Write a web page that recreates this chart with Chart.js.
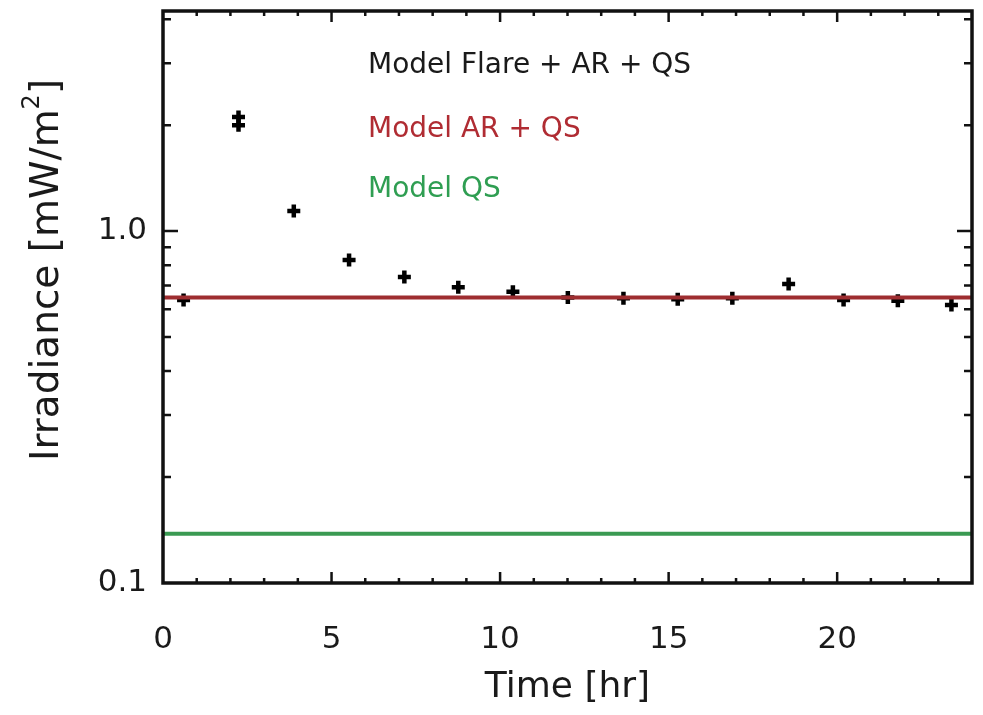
<!DOCTYPE html>
<html>
<head>
<meta charset="utf-8">
<title>Irradiance vs time</title>
<script src="https://cdn.jsdelivr.net/npm/chart.js@4.4.1/dist/chart.umd.min.js"></script>
<style>
    html, body { margin: 0; padding: 0; background: #fff; }
    #wrap { width: 983px; height: 715px; position: relative; }
</style>
</head>
<body>
<div id="wrap"><canvas id="irradianceChart"></canvas></div>
<script>
// values
const hours = [0.61, 2.24, 2.24, 3.88, 5.52, 7.16, 8.76, 10.38, 12.01, 13.66, 15.27, 16.89, 18.56, 20.19, 21.8, 23.39];
const irradiance = [0.637, 2.11, 2.00, 1.14, 0.827, 0.741, 0.692, 0.672, 0.648, 0.644, 0.640, 0.644, 0.707, 0.637, 0.634, 0.616];
const lineRange = [0, 24];
const arQsLevel = 0.648;
const qsLevel = 0.138;
const legendLabels = ["Model Flare + AR + QS", "Model AR + QS", "Model QS"];
const legendColors = ["#1a1a1a", "#b02c33", "#2f9e52"];
const xTitle = "Time [hr]";
const yTitle = "Irradiance [mW/m";

const FONT = "'DejaVu Sans', sans-serif";

// box + inward ticks on all four sides, plus the text labels inside the plot
const idlFrame = {
    id: "idlFrame",
    afterDraw(chart) {
        const ctx = chart.ctx;
        const area = chart.chartArea;
        const xs = chart.scales.x;
        const ys = chart.scales.y;

        ctx.save();
        ctx.strokeStyle = "#111";
        ctx.lineWidth = 3.5;
        ctx.strokeRect(area.left, area.top, area.right - area.left, area.bottom - area.top);

        ctx.lineWidth = 2.5;
        xs.ticks.forEach(t => {
            const px = xs.getPixelForValue(t.value);
            if (px <= area.left + 1 || px >= area.right - 1) return;
            const len = t.value % 5 === 0 ? 11 : 5;
            ctx.beginPath();
            ctx.moveTo(px, area.bottom); ctx.lineTo(px, area.bottom - len);
            ctx.moveTo(px, area.top); ctx.lineTo(px, area.top + len);
            ctx.stroke();
        });
        ys.ticks.forEach(t => {
            const v = t.value;
            const exp = Math.floor(Math.log10(v) + 1e-9);
            const sig = v / Math.pow(10, exp);
            if (Math.abs(sig - Math.round(sig)) > 1e-6) return;
            const py = ys.getPixelForValue(v);
            if (py >= area.bottom - 1 || py <= area.top + 1) return;
            const len = Math.round(sig) === 1 ? 15 : 8;
            ctx.beginPath();
            ctx.moveTo(area.left, py); ctx.lineTo(area.left + len, py);
            ctx.moveTo(area.right, py); ctx.lineTo(area.right - len, py);
            ctx.stroke();
        });

        // legend text
        ctx.font = "28px " + FONT;
        ctx.textBaseline = "alphabetic";
        ctx.textAlign = "left";
        const baselines = [73, 137, 197];
        legendLabels.forEach((txt, i) => {
            ctx.fillStyle = legendColors[i];
            ctx.fillText(txt, 368, baselines[i]);
        });

        // y axis title with superscript
        ctx.fillStyle = "#1a1a1a";
        ctx.translate(58, 270);
        ctx.rotate(-Math.PI / 2);
        ctx.font = "39px " + FONT;
        const mainW = ctx.measureText(yTitle).width;
        ctx.font = "24px " + FONT;
        const supW = ctx.measureText("2").width;
        ctx.font = "39px " + FONT;
        const closeW = ctx.measureText("]").width;
        let x0 = -(mainW + supW + closeW) / 2;
        ctx.fillText(yTitle, x0, 0);
        ctx.font = "24px " + FONT;
        ctx.fillText("2", x0 + mainW, -19);
        ctx.font = "39px " + FONT;
        ctx.fillText("]", x0 + mainW + supW, 0);
        ctx.restore();
    }
};

document.addEventListener("DOMContentLoaded", function () {
    const points = hours.map((h, i) => ({ x: h, y: irradiance[i] }));
    const arQsLine = lineRange.map(h => ({ x: h, y: arQsLevel }));
    const qsLine = lineRange.map(h => ({ x: h, y: qsLevel }));

    new Chart(document.getElementById("irradianceChart"), {
        type: "scatter",
        data: {
            datasets: [
                {
                    label: "Model AR + QS",
                    data: arQsLine,
                    showLine: true,
                    borderColor: "#9e2d30",
                    borderWidth: 4,
                    pointRadius: 0,
                    order: 0
                },
                {
                    label: "Model Flare + AR + QS",
                    data: points,
                    pointStyle: "cross",
                    pointRadius: 6.5,
                    borderWidth: 4.5,
                    borderColor: "#000",
                    backgroundColor: "#000",
                    order: 1
                },
                {
                    label: "Model QS",
                    data: qsLine,
                    showLine: true,
                    borderColor: "#3a9a52",
                    borderWidth: 4,
                    pointRadius: 0,
                    order: 2
                }
            ]
        },
        options: {
            responsive: true,
            maintainAspectRatio: false,
            animation: false,
            layout: { padding: { top: 11, right: 4, left: 0, bottom: 0 } },
            plugins: {
                legend: { display: false },
                tooltip: { enabled: false }
            },
            scales: {
                x: {
                    type: "linear",
                    min: 0,
                    max: 24,
                    grid: { display: false, drawTicks: false },
                    border: { display: false },
                    ticks: {
                        stepSize: 1,
                        autoSkip: false,
                        maxRotation: 0,
                        padding: 38,
                        color: "#1a1a1a",
                        font: { family: FONT, size: 31 },
                        callback: v => (v % 5 === 0 && v < 24 ? String(v) : "")
                    },
                    title: {
                        display: true,
                        text: xTitle,
                        color: "#1a1a1a",
                        font: { family: FONT, size: 36 },
                        padding: { top: 4, bottom: 6 }
                    },
                    afterFit: scale => {
                        scale.height = 132;
                        scale.paddingLeft = 0;
                        scale.paddingRight = 0;
                    }
                },
                y: {
                    type: "logarithmic",
                    min: 0.1,
                    max: 4.22,
                    grid: { display: false, drawTicks: false },
                    border: { display: false },
                    ticks: {
                        autoSkip: false,
                        padding: 16,
                        color: "#1a1a1a",
                        font: { family: FONT, size: 31 },
                        callback: v => (Math.abs(v - 1) < 1e-9 ? "1.0" : Math.abs(v - 0.1) < 1e-9 ? "0.1" : "")
                    },
                    afterFit: scale => {
                        scale.width = 163;
                        scale.paddingTop = 0;
                        scale.paddingBottom = 0;
                    }
                }
            }
        },
        plugins: [idlFrame]
    });
});
</script>
</body>
</html>
